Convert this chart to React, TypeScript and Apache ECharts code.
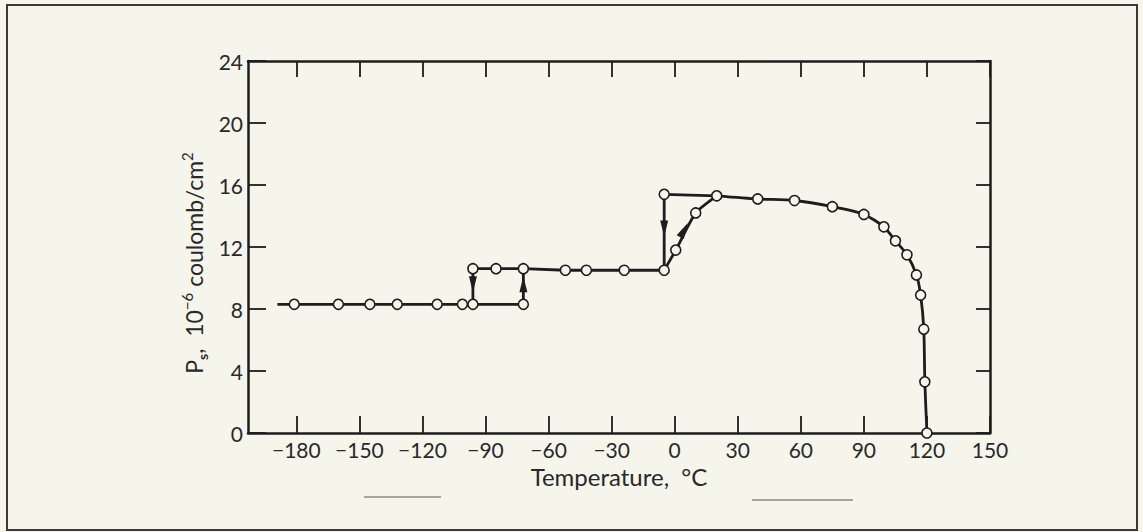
import React, { useEffect, useRef } from "react";
import * as echarts from "echarts";

// ---- data ----
const tempTicks = [-180, -150, -120, -90, -60, -30, 0, 30, 60, 90, 120, 150];

// low-temperature branch (P ≈ 8.3)
const lowRowT = [-189, -181, -160, -145, -132, -113, -101, -96, -72];
const lowRowP = [8.3, 8.3, 8.3, 8.3, 8.3, 8.3, 8.3, 8.3, 8.3];
const lowRowMarker = [false, true, true, true, true, true, true, true, true];

// intermediate branch (P ≈ 10.5)
const midRowT = [-96, -85, -72, -52, -42, -24, -5];
const midRowP = [10.6, 10.6, 10.6, 10.5, 10.5, 10.5, 10.5];

// transition jumps (vertical)
const jumpDown1T = [-96, -96];
const jumpDown1P = [10.6, 8.3];
const jumpUp1T = [-72, -72];
const jumpUp1P = [8.3, 10.6];
const jumpDown2T = [-5, -5];
const jumpDown2P = [15.4, 10.5];

// heating rise into the high phase
const riseT = [-5, 0.5, 10, 20];
const riseP = [10.5, 11.8, 14.2, 15.3];

// cooling top line
const topT = [-5, 20];
const topP = [15.4, 15.3];

// high-temperature curve down to the Curie point
const highT = [20, 39.5, 57, 75, 90, 99.5, 105, 110.5, 115, 117, 118.5, 119, 120];
const highP = [15.3, 15.1, 15.0, 14.6, 14.1, 13.3, 12.4, 11.5, 10.2, 8.9, 6.7, 3.3, 0];

// arrow heads (position and direction in degrees, counter-clockwise, 0 = up)
const arrowT = [-96, -72, -5, 4.4];
const arrowP = [9.6, 9.6, 13.2, 13.1];
const arrowRot = [180, 0, 180, -28];

const zip = (xs: number[], ys: number[]) => xs.map((x, i) => [x, ys[i]]);

const INK = "#1e1c1c";
const TXT = "#2a2828";
const BG = "#f5f5ec";
const FONT = "Lato, 'DejaVu Sans', sans-serif";

export default function App() {
  const ref = useRef<HTMLDivElement>(null);

  useEffect(() => {
    if (!ref.current) return;
    const chart = echarts.init(ref.current, undefined, { renderer: "svg" });

    const lineStyle = { color: INK, width: 2.8 };
    const lineSeries = (name: string, data: number[][], smooth: number | boolean = false) => ({
      name,
      type: "line",
      data,
      showSymbol: false,
      symbol: "none",
      smooth,
      lineStyle,
      z: 2,
      silent: true,
    });

    const markers: number[][] = [];
    lowRowT.forEach((t, i) => {
      if (lowRowMarker[i]) markers.push([t, lowRowP[i]]);
    });
    midRowT.forEach((t, i) => markers.push([t, midRowP[i]]));
    riseT.slice(1, 3).forEach((t, i) => markers.push([t, riseP[i + 1]]));
    markers.push([topT[0], topP[0]]);
    highT.forEach((t, i) => markers.push([t, highP[i]]));

    const arrows = arrowT.map((t, i) => ({
      value: [t, arrowP[i]],
      symbolRotate: arrowRot[i],
    }));

    const fmt = (v: number) => (v < 0 ? "\u2212" + Math.abs(v) : String(v));

    chart.setOption({
      animation: false,
      backgroundColor: BG,
      grid: { left: 248, right: 153, top: 61, bottom: 99, containLabel: false },
      xAxis: [
        {
          type: "value",
          position: "bottom",
          min: -203,
          max: 150,
          axisLine: { show: true, onZero: false, lineStyle: { color: INK, width: 2.5 } },
          axisTick: {
            show: true,
            inside: true,
            length: 17,
            customValues: tempTicks,
            lineStyle: { color: INK, width: 1.8 },
          },
          axisLabel: {
            customValues: tempTicks,
            formatter: fmt,
            margin: 6,
            fontSize: 21,
            color: TXT,
            fontFamily: FONT,
          },
          splitLine: { show: false },
          name: "Temperature,  \u00B0C",
          nameLocation: "middle",
          nameGap: 25,
          nameTextStyle: { fontSize: 24, color: TXT, fontFamily: FONT },
        },
        {
          type: "value",
          position: "top",
          min: -203,
          max: 150,
          axisLine: { show: true, onZero: false, lineStyle: { color: INK, width: 2.5 } },
          axisTick: {
            show: true,
            inside: true,
            length: 16,
            customValues: tempTicks,
            lineStyle: { color: INK, width: 1.8 },
          },
          axisLabel: { show: false },
          splitLine: { show: false },
        },
      ],
      yAxis: [
        {
          type: "value",
          position: "left",
          min: 0,
          max: 24,
          interval: 4,
          axisLine: { show: true, onZero: false, lineStyle: { color: INK, width: 2.5 } },
          axisTick: { show: true, inside: true, length: 18, lineStyle: { color: INK, width: 1.8 } },
          axisLabel: { margin: 5, fontSize: 21, color: TXT, fontFamily: FONT },
          splitLine: { show: false },
        },
        {
          type: "value",
          position: "right",
          min: 0,
          max: 24,
          interval: 4,
          axisLine: { show: true, onZero: false, lineStyle: { color: INK, width: 2.5 } },
          axisTick: { show: true, inside: true, length: 14, lineStyle: { color: INK, width: 1.8 } },
          axisLabel: { show: false },
          splitLine: { show: false },
        },
      ],
      graphic: [
        {
          type: "rect",
          shape: { x: 7, y: 5, width: 1130, height: 525 },
          style: { fill: "none", stroke: "#3a3838", lineWidth: 2 },
          silent: true,
        },
        {
          type: "line",
          shape: { x1: 364, y1: 497, x2: 441, y2: 497 },
          style: { stroke: "#8a8a86", lineWidth: 1.5 },
          silent: true,
        },
        {
          type: "line",
          shape: { x1: 752, y1: 500, x2: 853, y2: 500 },
          style: { stroke: "#8a8a86", lineWidth: 1.5 },
          silent: true,
        },
        {
          type: "text",
          x: 194,
          y: 263,
          rotation: Math.PI / 2,
          style: {
            text: "{b|P}{sub|s}{b|,  10}{sup|\u22126}{b| coulomb/cm}{sup|2}",
            align: "center",
            verticalAlign: "middle",
            fill: TXT,
            rich: {
              b: { fontSize: 23, fontFamily: FONT, fill: TXT, lineHeight: 30 },
              sub: {
                fontSize: 14,
                fontFamily: FONT,
                fill: TXT,
                fontWeight: "bold",
                lineHeight: 14,
                verticalAlign: "bottom",
              },
              sup: {
                fontSize: 15,
                fontFamily: FONT,
                fill: TXT,
                lineHeight: 15,
                verticalAlign: "top",
              },
            },
          },
          silent: true,
        },
      ],
      series: [
        lineSeries("low", zip(lowRowT, lowRowP)),
        lineSeries("mid", zip(midRowT, midRowP)),
        lineSeries("jumpDown1", zip(jumpDown1T, jumpDown1P)),
        lineSeries("jumpUp1", zip(jumpUp1T, jumpUp1P)),
        lineSeries("jumpDown2", zip(jumpDown2T, jumpDown2P)),
        lineSeries("rise", zip(riseT, riseP), 0.2),
        lineSeries("top", zip(topT, topP)),
        lineSeries("high", zip(highT, highP), 0.25),
        {
          name: "arrows",
          type: "scatter",
          data: arrows,
          symbol: "triangle",
          symbolSize: [8, 16],
          itemStyle: { color: INK, opacity: 1 },
          z: 3,
          silent: true,
        },
        {
          name: "points",
          type: "scatter",
          data: markers,
          symbol: "circle",
          symbolSize: 10,
          itemStyle: { color: BG, borderColor: INK, borderWidth: 1.6, opacity: 1 },
          z: 4,
          silent: true,
        },
      ],
    });

    return () => chart.dispose();
  }, []);

  return (
    <div
      ref={ref}
      style={{ position: "fixed", left: 0, top: 0, width: 1143, height: 532 }}
    />
  );
}
